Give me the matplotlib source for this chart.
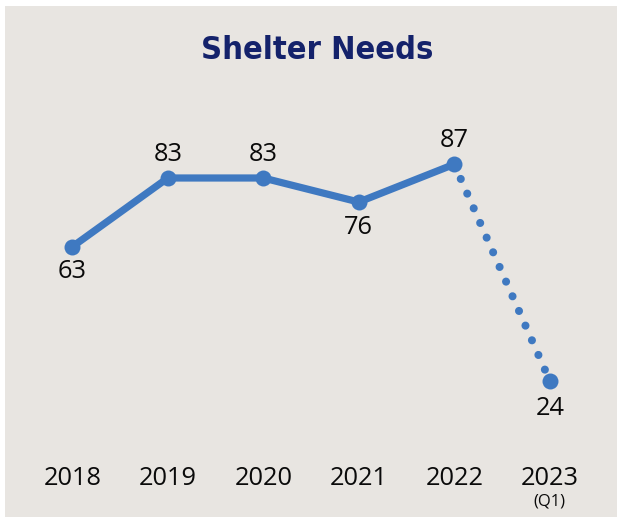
import matplotlib
matplotlib.use("Agg")
import matplotlib.pyplot as plt
from matplotlib import font_manager
from matplotlib.patches import Rectangle

years = ["2018", "2019", "2020", "2021", "2022", "2023"]
values = [63, 83, 83, 76, 87, 24]
label_side = ["below", "above", "above", "below", "above", "below"]
title = "Shelter Needs"
sub_label = "(Q1)"

BG = "#E8E5E1"
BLUE = "#3F79C1"
NAVY = "#14226B"
TXT = "#0A0A0A"

fonts = font_manager.fontManager.ttflist
available = {f.name for f in fonts}
condensed = [f for f in fonts
             if (f.stretch in ("condensed", "semi-condensed", "extra-condensed")
                 or "Narrow" in f.name or "Condensed" in f.name)
             and (f.weight in ("bold", 700, "semibold", 600) or
                  (isinstance(f.weight, int) and f.weight >= 600))]
if condensed:
    title_prop = font_manager.FontProperties(fname=condensed[0].fname)
else:
    fam = "Lato" if "Lato" in available else "Open Sans"
    title_prop = font_manager.FontProperties(family=fam, weight="bold")
body_font = "Open Sans" if "Open Sans" in available else "DejaVu Sans"

W, H = 617, 517
fig = plt.figure(figsize=(W / 100, H / 100), dpi=100, facecolor="white")
fig.patches.append(Rectangle((5 / W, 0), 1 - 5 / W, (H - 6) / H,
                             transform=fig.transFigure, facecolor=BG,
                             edgecolor="none", zorder=-10))

# axes spanning pixel x 5..617, y 100..455
top_px, bot_px = 100, 455
ax = fig.add_axes([5 / W, (H - bot_px) / H, (W - 5) / W, (bot_px - top_px) / H])
ax.set_facecolor("none")
ax.set_xlim(-0.705, 5.704)
ax.set_ylim(2.38, 105.7)
for s in ax.spines.values():
    s.set_visible(False)
ax.set_yticks([])

x = list(range(len(years)))
# solid segment 2018-2022
ax.plot(x[:5], values[:5], color=BLUE, lw=5.2, solid_capstyle="round",
        solid_joinstyle="round", zorder=3)
# dotted segment 2022-2023
ax.plot(x[4:], values[4:], color=BLUE, lw=5.8, linestyle=(0, (0.01, 1.98)),
        dash_capstyle="round", zorder=3)
ax.plot(x, values, "o", color=BLUE, ms=11.5, mec="none", zorder=4)

for xi, v, side in zip(x, values, label_side):
    dy = 17 if side == "above" else -18
    if xi == 5:
        dy = -20
    ax.annotate(str(v), (xi, v), xytext=(0, dy), textcoords="offset points",
                ha="center", va="center", fontsize=18.3, family=body_font,
                color=TXT)

ax.set_xticks(x)
ax.set_xticklabels(years, fontsize=18.3, family=body_font, color=TXT)
ax.tick_params(axis="x", length=0, pad=8)

ax.annotate(sub_label, (5, 0), xycoords=ax.get_xaxis_transform(),
            xytext=(0, -28), textcoords="offset points", ha="center", va="top",
            fontsize=12, family=body_font, color=TXT)

t = fig.text(316.7 / W, (H - 59.3) / H, title, ha="center", va="baseline",
             fontproperties=title_prop, color=NAVY)
t.set_fontsize(31)
renderer = fig.canvas.get_renderer()
wpx = t.get_window_extent(renderer).width
target = 232.0
size = 31 * target / wpx
t.set_fontsize(min(max(size, 22), 33))

fig.savefig("out.png", dpi=100, facecolor="white")
